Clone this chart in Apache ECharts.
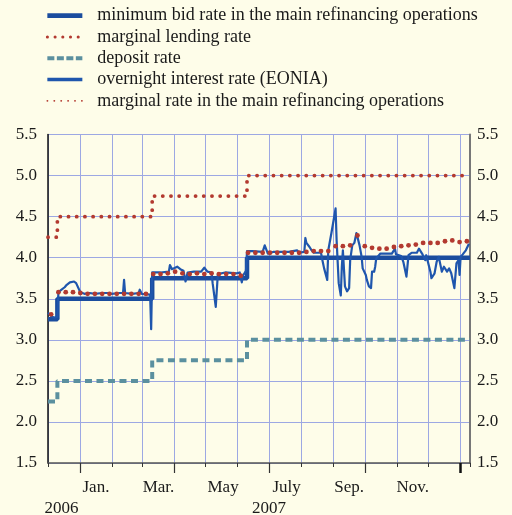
<!DOCTYPE html>
<html>
<head>
<meta charset="utf-8">
<script src="https://cdn.jsdelivr.net/npm/echarts@6/dist/echarts.min.js"></script>
<style>
  html, body { margin: 0; padding: 0; background: #fefde9; }
  #chart { width: 512px; height: 515px; }
</style>
</head>
<body>
<div id="chart"></div>
<script>
// key ECB rates (step changes)
const mroRate = [['2006-12-01', 3.25], ['2006-12-10', 3.5], ['2007-03-11', 3.75], ['2007-06-10', 4.0], ['2008-01-10', 4.0]]
const lendingRate = [['2006-12-01', 4.25], ['2006-12-10', 4.5], ['2007-03-11', 4.75], ['2007-06-10', 5.0], ['2008-01-10', 5.0]]
const depositRate = [['2006-12-01', 2.25], ['2006-12-10', 2.5], ['2007-03-11', 2.75], ['2007-06-10', 3.0], ['2008-01-10', 3.0]]

// weekly marginal rate in the main refinancing operations
const marginalRate = [
  ['2006-12-04', 3.31], ['2006-12-11', 3.58], ['2006-12-18', 3.58], ['2006-12-25', 3.58],
  ['2007-01-01', 3.57], ['2007-01-08', 3.56], ['2007-01-15', 3.56], ['2007-01-22', 3.56], ['2007-01-29', 3.56],
  ['2007-02-05', 3.56], ['2007-02-12', 3.56], ['2007-02-19', 3.56], ['2007-02-26', 3.56],
  ['2007-03-05', 3.56], ['2007-03-12', 3.80], ['2007-03-19', 3.80], ['2007-03-26', 3.81],
  ['2007-04-02', 3.83], ['2007-04-09', 3.81], ['2007-04-16', 3.80], ['2007-04-23', 3.81], ['2007-04-30', 3.80],
  ['2007-05-07', 3.81], ['2007-05-14', 3.80], ['2007-05-21', 3.80], ['2007-05-28', 3.80],
  ['2007-06-04', 3.78], ['2007-06-11', 4.06], ['2007-06-18', 4.06], ['2007-06-25', 4.06],
  ['2007-07-02', 4.06], ['2007-07-09', 4.06], ['2007-07-16', 4.06], ['2007-07-23', 4.06], ['2007-07-30', 4.06],
  ['2007-08-06', 4.07], ['2007-08-13', 4.08], ['2007-08-20', 4.08], ['2007-08-27', 4.08],
  ['2007-09-03', 4.14], ['2007-09-10', 4.14], ['2007-09-17', 4.15], ['2007-09-24', 4.27],
  ['2007-10-01', 4.14], ['2007-10-08', 4.12], ['2007-10-15', 4.11], ['2007-10-22', 4.11], ['2007-10-29', 4.13],
  ['2007-11-05', 4.14], ['2007-11-12', 4.15], ['2007-11-19', 4.16], ['2007-11-26', 4.18],
  ['2007-12-03', 4.18], ['2007-12-10', 4.18], ['2007-12-17', 4.20], ['2007-12-24', 4.21], ['2007-12-31', 4.19],
  ['2008-01-07', 4.20]
]

// overnight interest rate (EONIA)
const eonia = [
  ['2006-12-01', 3.33], ['2006-12-04', 3.29], ['2006-12-07', 3.27], ['2006-12-10', 3.28], ['2006-12-11', 3.58],
  ['2006-12-14', 3.61], ['2006-12-17', 3.64], ['2006-12-19', 3.67], ['2006-12-22', 3.70], ['2006-12-26', 3.71],
  ['2006-12-28', 3.69], ['2007-01-01', 3.58], ['2007-01-05', 3.56], ['2007-01-10', 3.57], ['2007-01-15', 3.56],
  ['2007-01-22', 3.57], ['2007-01-28', 3.57], ['2007-01-29', 3.59], ['2007-01-31', 3.56], ['2007-02-08', 3.57],
  ['2007-02-11', 3.57], ['2007-02-12', 3.73], ['2007-02-13', 3.57], ['2007-02-20', 3.56], ['2007-02-26', 3.57],
  ['2007-02-27', 3.61], ['2007-03-01', 3.56], ['2007-03-09', 3.55], ['2007-03-10', 3.13], ['2007-03-11', 3.82],
  ['2007-03-19', 3.82], ['2007-03-27', 3.83], ['2007-03-28', 3.91], ['2007-03-30', 3.86], ['2007-04-04', 3.89],
  ['2007-04-07', 3.86], ['2007-04-10', 3.84], ['2007-04-12', 3.71], ['2007-04-14', 3.82], ['2007-04-20', 3.83],
  ['2007-04-27', 3.83], ['2007-04-30', 3.88], ['2007-05-03', 3.83], ['2007-05-07', 3.82], ['2007-05-08', 3.69],
  ['2007-05-11', 3.40], ['2007-05-13', 3.80], ['2007-05-20', 3.82], ['2007-05-31', 3.81], ['2007-06-03', 3.82],
  ['2007-06-05', 3.70], ['2007-06-06', 3.78], ['2007-06-09', 3.84], ['2007-06-10', 4.08], ['2007-06-15', 4.08],
  ['2007-06-25', 4.07], ['2007-06-27', 4.15], ['2007-06-30', 4.05], ['2007-07-05', 4.07], ['2007-07-20', 4.07],
  ['2007-07-28', 4.09], ['2007-07-30', 4.06], ['2007-08-04', 4.07], ['2007-08-05', 4.24], ['2007-08-06', 4.18],
  ['2007-08-09', 4.13], ['2007-08-11', 4.09], ['2007-08-13', 4.06], ['2007-08-20', 4.06], ['2007-08-21', 3.99],
  ['2007-08-23', 3.87], ['2007-08-26', 3.73], ['2007-08-27', 4.09], ['2007-08-30', 4.30], ['2007-08-31', 4.28],
  ['2007-09-03', 4.60], ['2007-09-04', 4.21], ['2007-09-06', 3.69], ['2007-09-08', 3.54], ['2007-09-09', 3.89],
  ['2007-09-10', 4.09], ['2007-09-12', 3.65], ['2007-09-14', 3.59], ['2007-09-16', 3.63], ['2007-09-17', 3.97],
  ['2007-09-19', 4.15], ['2007-09-21', 4.18], ['2007-09-23', 4.30], ['2007-09-26', 4.15], ['2007-09-28', 4.01],
  ['2007-09-29', 3.87], ['2007-10-02', 3.79], ['2007-10-03', 3.73], ['2007-10-05', 3.65], ['2007-10-07', 3.63],
  ['2007-10-08', 3.83], ['2007-10-10', 3.83], ['2007-10-11', 3.89], ['2007-10-12', 3.99], ['2007-10-16', 4.05],
  ['2007-10-27', 4.05], ['2007-10-30', 4.11], ['2007-10-31', 4.04], ['2007-11-05', 4.02], ['2007-11-07', 3.95],
  ['2007-11-10', 3.77], ['2007-11-12', 4.03], ['2007-11-15', 4.06], ['2007-11-20', 4.06], ['2007-11-22', 4.11],
  ['2007-11-25', 4.05], ['2007-11-28', 3.97], ['2007-11-29', 4.03], ['2007-12-03', 3.83], ['2007-12-04', 3.75],
  ['2007-12-07', 3.81], ['2007-12-09', 3.95], ['2007-12-11', 4.01], ['2007-12-14', 3.83], ['2007-12-16', 3.89],
  ['2007-12-19', 3.83], ['2007-12-21', 3.87], ['2007-12-23', 3.81], ['2007-12-26', 3.63], ['2007-12-28', 3.93],
  ['2007-12-30', 3.97], ['2007-12-31', 3.79], ['2008-01-01', 4.01], ['2008-01-03', 4.04], ['2008-01-06', 4.09],
  ['2008-01-09', 4.17]
]

const seriesNames = [
  'minimum bid rate in the main refinancing operations',
  'marginal lending rate',
  'deposit rate',
  'overnight interest rate (EONIA)',
  'marginal rate in the main refinancing operations'
]

const yTicks = [1.5, 2.0, 2.5, 3.0, 3.5, 4.0, 4.5, 5.0, 5.5]
const monthLabels = ['Jan.', 'Mar.', 'May', 'July', 'Sep.', 'Nov.']
const monthLabelDates = ['2007-01-16', '2007-03-17', '2007-05-18', '2007-07-18', '2007-09-16', '2007-11-16']
const yearLabels = ['2006', '2007']
const yearLabelDates = ['2006-12-14', '2007-07-01']
const quarterTickDates = ['2007-01-01', '2007-04-01', '2007-07-01', '2007-10-01']
const lastTickDate = ['2008-01-01']

const xMin = '2006-12-01'
const xMax = '2008-01-10'

const ts = s => echarts.time.parse(s).getTime()
const DAY = 24 * 3600 * 1000
const FONT = '"Liberation Serif", "DejaVu Serif", serif'
const TEXT = '#1a1a1a'
const GRIDLINE = '#9da8e3'
const RED = '#b33a30'
const BLUE = '#1b4d9e'
const EONIA_BLUE = '#1f56ad'
const TEAL = '#5b909f'

function labelFor (dates, labels) {
  const stamps = dates.map(ts)
  return value => {
    const i = stamps.findIndex(t => Math.abs(t - value) < DAY / 2)
    return i >= 0 ? labels[i] : ''
  }
}

const gridBox = { left: 48, right: 42, top: 134.5, bottom: 52, outerBoundsMode: 'none' }

// extra value axes (timestamps) only used for long ticks and labels
function helperX (gridIndex, extra) {
  return Object.assign({
    type: 'value',
    gridIndex,
    min: ts(xMin),
    max: ts(xMax),
    position: 'bottom',
    axisLine: { show: false },
    axisTick: { show: false },
    axisLabel: { show: false },
    splitLine: { show: false }
  }, extra)
}

function helperY (gridIndex) {
  return { type: 'value', gridIndex, min: 1.5, max: 5.5, show: false }
}

const option = {
  backgroundColor: '#fefde9',
  animation: false,
  textStyle: { fontFamily: FONT },
  legend: {
    orient: 'vertical',
    left: 40,
    top: 0,
    itemWidth: 35,
    itemHeight: 10,
    itemGap: 0,
    itemStyle: { opacity: 0 },
    textStyle: { fontFamily: FONT, fontSize: 18, lineHeight: 21.3, color: TEXT, padding: [0, 0, 0, 10] },
    data: [
      { name: seriesNames[0], lineStyle: { width: 4.7, type: 'solid', color: BLUE } },
      { name: seriesNames[1], lineStyle: { width: 3, type: [0.1, 7.6], cap: 'round', color: RED } },
      { name: seriesNames[2], lineStyle: { width: 4, type: [7, 2.5], color: TEAL } },
      { name: seriesNames[3], lineStyle: { width: 3.5, type: 'solid', color: EONIA_BLUE } },
      { name: seriesNames[4], lineStyle: { width: 1.8, type: [0.1, 6.8], cap: 'round', color: RED, opacity: 1 } }
    ]
  },
  grid: [gridBox, gridBox, gridBox, gridBox, gridBox],
  xAxis: [
    {
      type: 'time',
      gridIndex: 0,
      min: ts(xMin),
      max: ts(xMax),
      splitNumber: 14,
      minInterval: 28 * DAY,
      maxInterval: 31 * DAY,
      axisLine: { show: true, lineStyle: { color: '#555', width: 1.5 } },
      axisTick: { show: true, length: 4, lineStyle: { color: '#333', width: 1 } },
      axisLabel: { show: false },
      splitLine: { show: true, lineStyle: { color: GRIDLINE, width: 1 } }
    },
    helperX(1, { axisTick: { show: true, length: 10, customValues: quarterTickDates.map(ts), lineStyle: { color: '#333', width: 1.2 } } }),
    helperX(2, {
      axisLabel: {
        show: true,
        customValues: monthLabelDates.map(ts),
        formatter: labelFor(monthLabelDates, monthLabels),
        margin: 16,
        fontFamily: FONT,
        fontSize: 17,
        color: TEXT,
        hideOverlap: false
      }
    }),
    helperX(3, {
      axisLabel: {
        show: true,
        customValues: yearLabelDates.map(ts),
        formatter: labelFor(yearLabelDates, yearLabels),
        margin: 37,
        fontFamily: FONT,
        fontSize: 17,
        color: TEXT,
        hideOverlap: false
      }
    }),
    helperX(4, { axisTick: { show: true, length: 10, customValues: lastTickDate.map(ts), lineStyle: { color: '#111', width: 2.5 } } })
  ],
  yAxis: [
    {
      type: 'value',
      gridIndex: 0,
      position: 'left',
      min: yTicks[0],
      max: yTicks[yTicks.length - 1],
      interval: 0.5,
      axisLine: { show: true, lineStyle: { color: '#111', width: 1.5 } },
      axisTick: { show: false },
      axisLabel: { margin: 11, fontFamily: FONT, fontSize: 17, color: TEXT, formatter: v => v.toFixed(1) },
      splitLine: { show: true, lineStyle: { color: GRIDLINE, width: 1 } }
    },
    {
      type: 'value',
      gridIndex: 0,
      position: 'right',
      min: yTicks[0],
      max: yTicks[yTicks.length - 1],
      interval: 0.5,
      axisLine: { show: true, lineStyle: { color: '#777', width: 2 } },
      axisTick: { show: false },
      axisLabel: { margin: 7, fontFamily: FONT, fontSize: 17, color: TEXT, formatter: v => v.toFixed(1) },
      splitLine: { show: false }
    },
    helperY(1), helperY(2), helperY(3), helperY(4)
  ],
  series: [
    {
      name: seriesNames[2],
      type: 'line',
      step: 'end',
      symbol: 'none',
      data: depositRate,
      lineStyle: { color: TEAL, width: 4, type: [7, 4.5] },
      itemStyle: { color: TEAL }
    },
    {
      name: seriesNames[1],
      type: 'line',
      step: 'end',
      symbol: 'none',
      data: lendingRate,
      lineStyle: { color: RED, width: 3.8, type: [0.1, 8.1], cap: 'round' },
      itemStyle: { color: RED }
    },
    {
      name: seriesNames[0],
      type: 'line',
      step: 'end',
      symbol: 'none',
      data: mroRate,
      lineStyle: { color: BLUE, width: 4.5 },
      itemStyle: { color: BLUE }
    },
    {
      name: seriesNames[3],
      type: 'line',
      symbol: 'none',
      data: eonia,
      lineStyle: { color: EONIA_BLUE, width: 2.2, join: 'round' },
      itemStyle: { color: EONIA_BLUE }
    },
    {
      name: seriesNames[4],
      type: 'line',
      symbol: 'circle',
      symbolSize: 4.8,
      showSymbol: true,
      data: marginalRate,
      lineStyle: { opacity: 0 },
      itemStyle: { color: RED }
    }
  ]
}

const myChart = echarts.init(document.getElementById('chart'))
myChart.setOption(option)
</script>
</body>
</html>
